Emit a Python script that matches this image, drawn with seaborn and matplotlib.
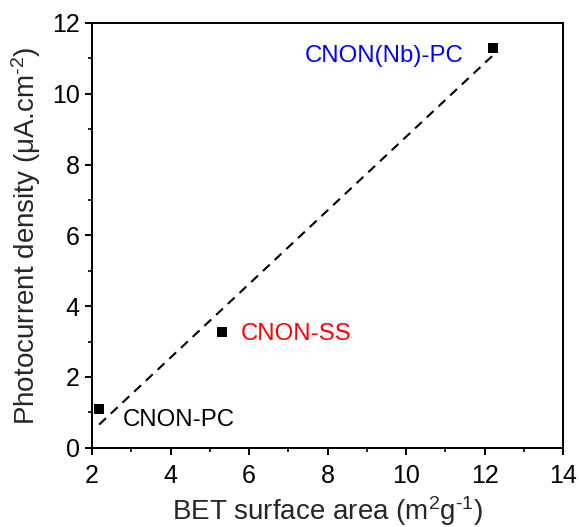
import numpy as np
import pandas as pd
import matplotlib
matplotlib.use("Agg")
import matplotlib.pyplot as plt
import seaborn as sns
from matplotlib.ticker import MultipleLocator

# Data
samples = ["CNON-PC", "CNON-SS", "CNON(Nb)-PC"]
bet_area = [2.18, 5.31, 12.22]
photocurrent = [1.09, 3.27, 11.29]
label_colors = ["black", "red", "blue"]
label_x = [2.79, 5.79, 7.43]
label_y = [0.78, 3.21, 11.07]

df = pd.DataFrame({"bet": bet_area, "pc": photocurrent, "sample": samples})

sns.set_theme(style="ticks")
plt.rcParams["font.family"] = ["Liberation Sans", "DejaVu Sans"]
plt.rcParams["mathtext.fontset"] = "custom"
plt.rcParams["mathtext.rm"] = "Liberation Sans"
plt.rcParams["mathtext.it"] = "Liberation Sans"
plt.rcParams["mathtext.default"] = "regular"

fig = plt.figure(figsize=(5.79, 5.27), dpi=100)
ax = fig.add_axes([0.1589, 0.1505, 0.9724 - 0.1589, 0.9564 - 0.1505])

sns.regplot(data=df, x="bet", y="pc", scatter=False, ci=None, truncate=True,
            color="black", line_kws=dict(linestyle=(0, (4.5, 3.2)), linewidth=1.5), ax=ax)
sns.scatterplot(data=df, x="bet", y="pc", marker="s", s=50, color="black",
                edgecolor="black", linewidth=0, ax=ax, zorder=3)

for name, xx, yy, c in zip(samples, label_x, label_y, label_colors):
    ax.text(xx, yy, name, color=c, fontsize=17.3, ha="left", va="center")

ax.set_xlim(2, 14)
ax.set_ylim(0, 12)
ax.xaxis.set_major_locator(MultipleLocator(2))
ax.xaxis.set_minor_locator(MultipleLocator(1))
ax.yaxis.set_major_locator(MultipleLocator(2))
ax.yaxis.set_minor_locator(MultipleLocator(1))
ax.tick_params(which="major", direction="out", length=5, width=1.4, labelsize=18, colors="black", pad=4)
ax.tick_params(which="minor", direction="out", length=3, width=1.4)
ax.tick_params(axis="x", which="major", pad=7)
ax.tick_params(top=False, right=False, which="both")
for s in ax.spines.values():
    s.set_linewidth(1.4)
    s.set_color("black")
    s.set_visible(True)

ax.set_xlabel("BET surface area (m$^2$g$^{\u20101}$)", fontsize=20, labelpad=4)
ax.set_ylabel("Photocurrent density (\u03bcA.cm$^{\u20102}$)", fontsize=20, labelpad=6)

fig.savefig("out.png", dpi=100)
